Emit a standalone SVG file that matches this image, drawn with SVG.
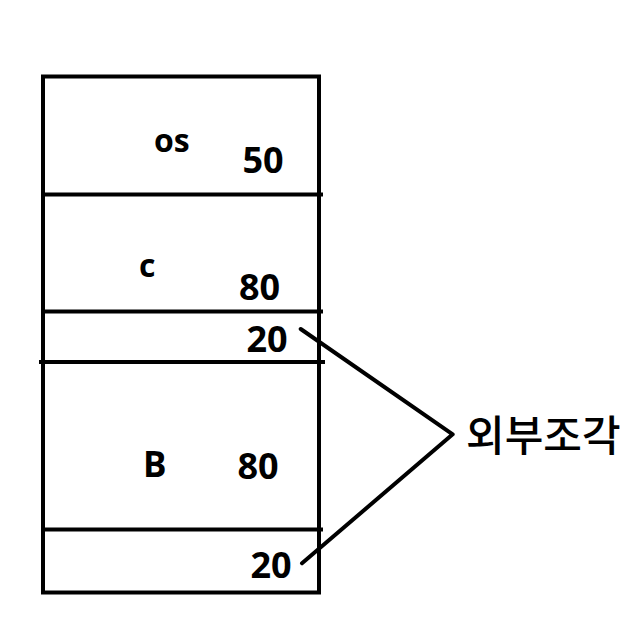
<svg xmlns="http://www.w3.org/2000/svg" width="632" height="626" viewBox="0 0 632 626">
<style>
.ln{stroke:#000;stroke-width:4;fill:none}
.t{font-family:"Open Sans","Liberation Sans",sans-serif;font-weight:bold;fill:#000}
.n{font-size:36px}
.l{font-size:32px}
.k{font-family:"Noto Sans CJK KR","Noto Sans",sans-serif;font-size:42px;font-weight:500;fill:#000}
</style>
<rect width="632" height="626" fill="#fff"/>
<g id="memory">
<rect class="ln" x="43" y="76.5" width="276" height="516"/>
</g>
<g id="os">
<line class="ln" x1="42" y1="194.5" x2="323" y2="194.5"/>
<text class="t l" x="154" y="151.5">os</text>
<text class="t n" x="242.5" y="173">50</text>
</g>
<g id="c">
<line class="ln" x1="42" y1="311.5" x2="323" y2="311.5"/>
<text class="t l" x="139" y="277">c</text>
<text class="t n" x="239" y="300">80</text>
</g>
<g id="hole1">
<line class="ln" x1="39" y1="362" x2="325" y2="362"/>
<text class="t n" x="246.5" y="351.5">20</text>
</g>
<g id="B">
<line class="ln" x1="42" y1="529.5" x2="323" y2="529.5"/>
<text class="t" font-size="35" x="143" y="477">B</text>
<text class="t n" x="237.5" y="479">80</text>
</g>
<g id="hole2">
<text class="t n" x="250.5" y="578">20</text>
</g>
<g id="connectors">
<polyline class="ln" stroke-linecap="round" stroke-linejoin="round" points="300.7,329 452.7,434.3 302,563.3"/>
</g>
<g id="label">
<text class="k" x="466" y="451">외부조각</text>
</g>
</svg>
